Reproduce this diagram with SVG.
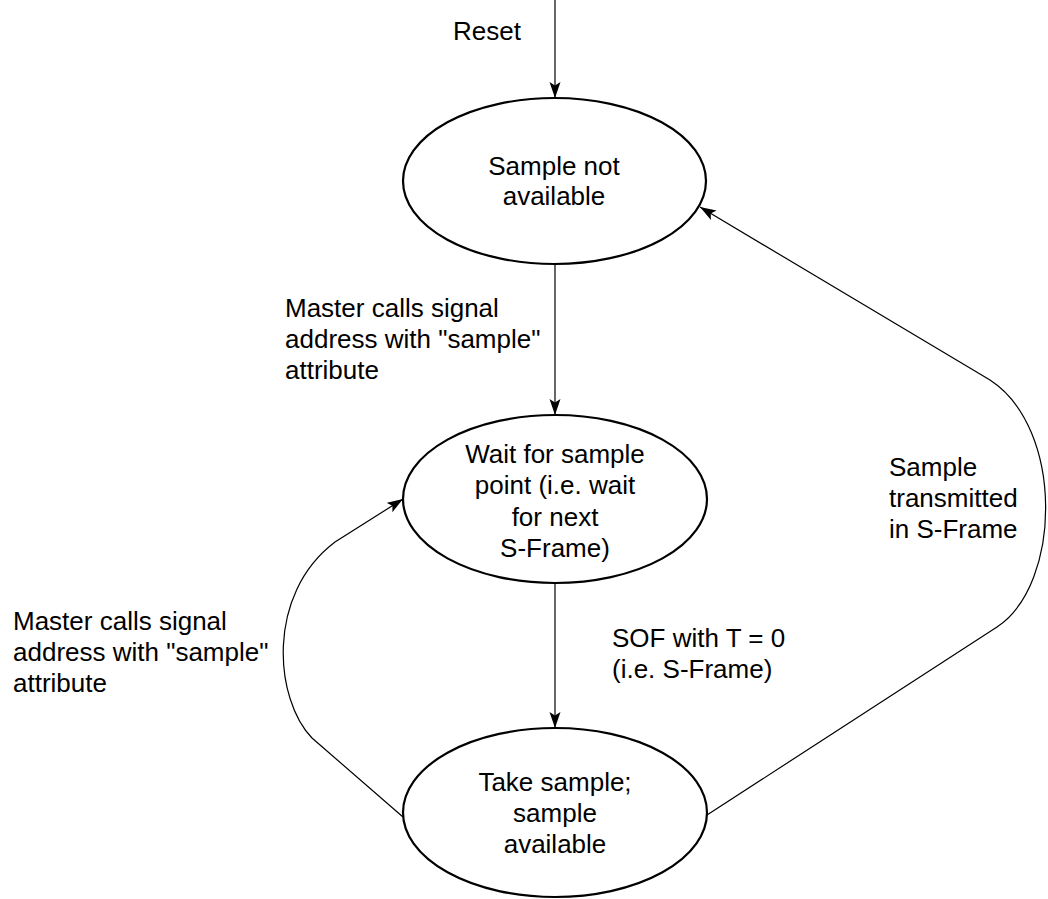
<svg xmlns="http://www.w3.org/2000/svg" width="1048" height="899" viewBox="0 0 1048 899">
<style>
  text { font-family: "Liberation Sans", Arial, sans-serif; font-size: 26px; fill: #000; }
  .c { text-anchor: middle; }
  .node { fill: #fff; stroke: #000; stroke-width: 2.2; }
  .edge { fill: none; stroke: #000; stroke-width: 1.2; }
</style>
<defs>
  <marker id="arr" markerUnits="userSpaceOnUse" markerWidth="18" markerHeight="12" refX="16" refY="5.5" orient="auto">
    <path d="M0,0 L16,5.5 L0,11 L3.5,5.5 z" fill="#000"/>
  </marker>
</defs>
<rect width="1048" height="899" fill="#fff"/>
<g id="connectors">
  <line class="edge" x1="555" y1="0" x2="555" y2="98" marker-end="url(#arr)"/>
  <line class="edge" x1="555" y1="264" x2="555" y2="415" marker-end="url(#arr)"/>
  <line class="edge" x1="555" y1="583" x2="555" y2="728" marker-end="url(#arr)"/>
  <path class="edge" d="M403,817 L312,738 C275,700 265,595 335,542 L403,499" marker-end="url(#arr)"/>
  <path class="edge" d="M707,815 L997,627 C1062,584 1064,428 990,380 L700,207" marker-end="url(#arr)"/>
</g>
<g id="labels">
  <text x="453" y="40">Reset</text>
  <text x="285" y="317">Master calls signal</text>
  <text x="285" y="348">address with "sample"</text>
  <text x="285" y="379">attribute</text>
  <text x="13" y="630">Master calls signal</text>
  <text x="13" y="661">address with "sample"</text>
  <text x="13" y="692">attribute</text>
  <text x="612" y="647">SOF with T = 0</text>
  <text x="612" y="678">(i.e. S-Frame)</text>
  <text x="889" y="476">Sample</text>
  <text x="889" y="507">transmitted</text>
  <text x="889" y="538">in S-Frame</text>
</g>
<g id="s1">
  <ellipse class="node" cx="554.5" cy="181" rx="151.5" ry="83"/>
  <text class="c" x="554" y="175">Sample not</text>
  <text class="c" x="554" y="205">available</text>
</g>
<g id="s2">
  <ellipse class="node" cx="555" cy="499" rx="152" ry="84"/>
  <text class="c" x="555" y="463">Wait for sample</text>
  <text class="c" x="555" y="494">point (i.e. wait</text>
  <text class="c" x="555" y="526">for next</text>
  <text class="c" x="555" y="557">S-Frame)</text>
</g>
<g id="s3">
  <ellipse class="node" cx="555" cy="812.5" rx="152" ry="84.5"/>
  <text class="c" x="555" y="791">Take sample;</text>
  <text class="c" x="555" y="822">sample</text>
  <text class="c" x="555" y="853">available</text>
</g>
</svg>
